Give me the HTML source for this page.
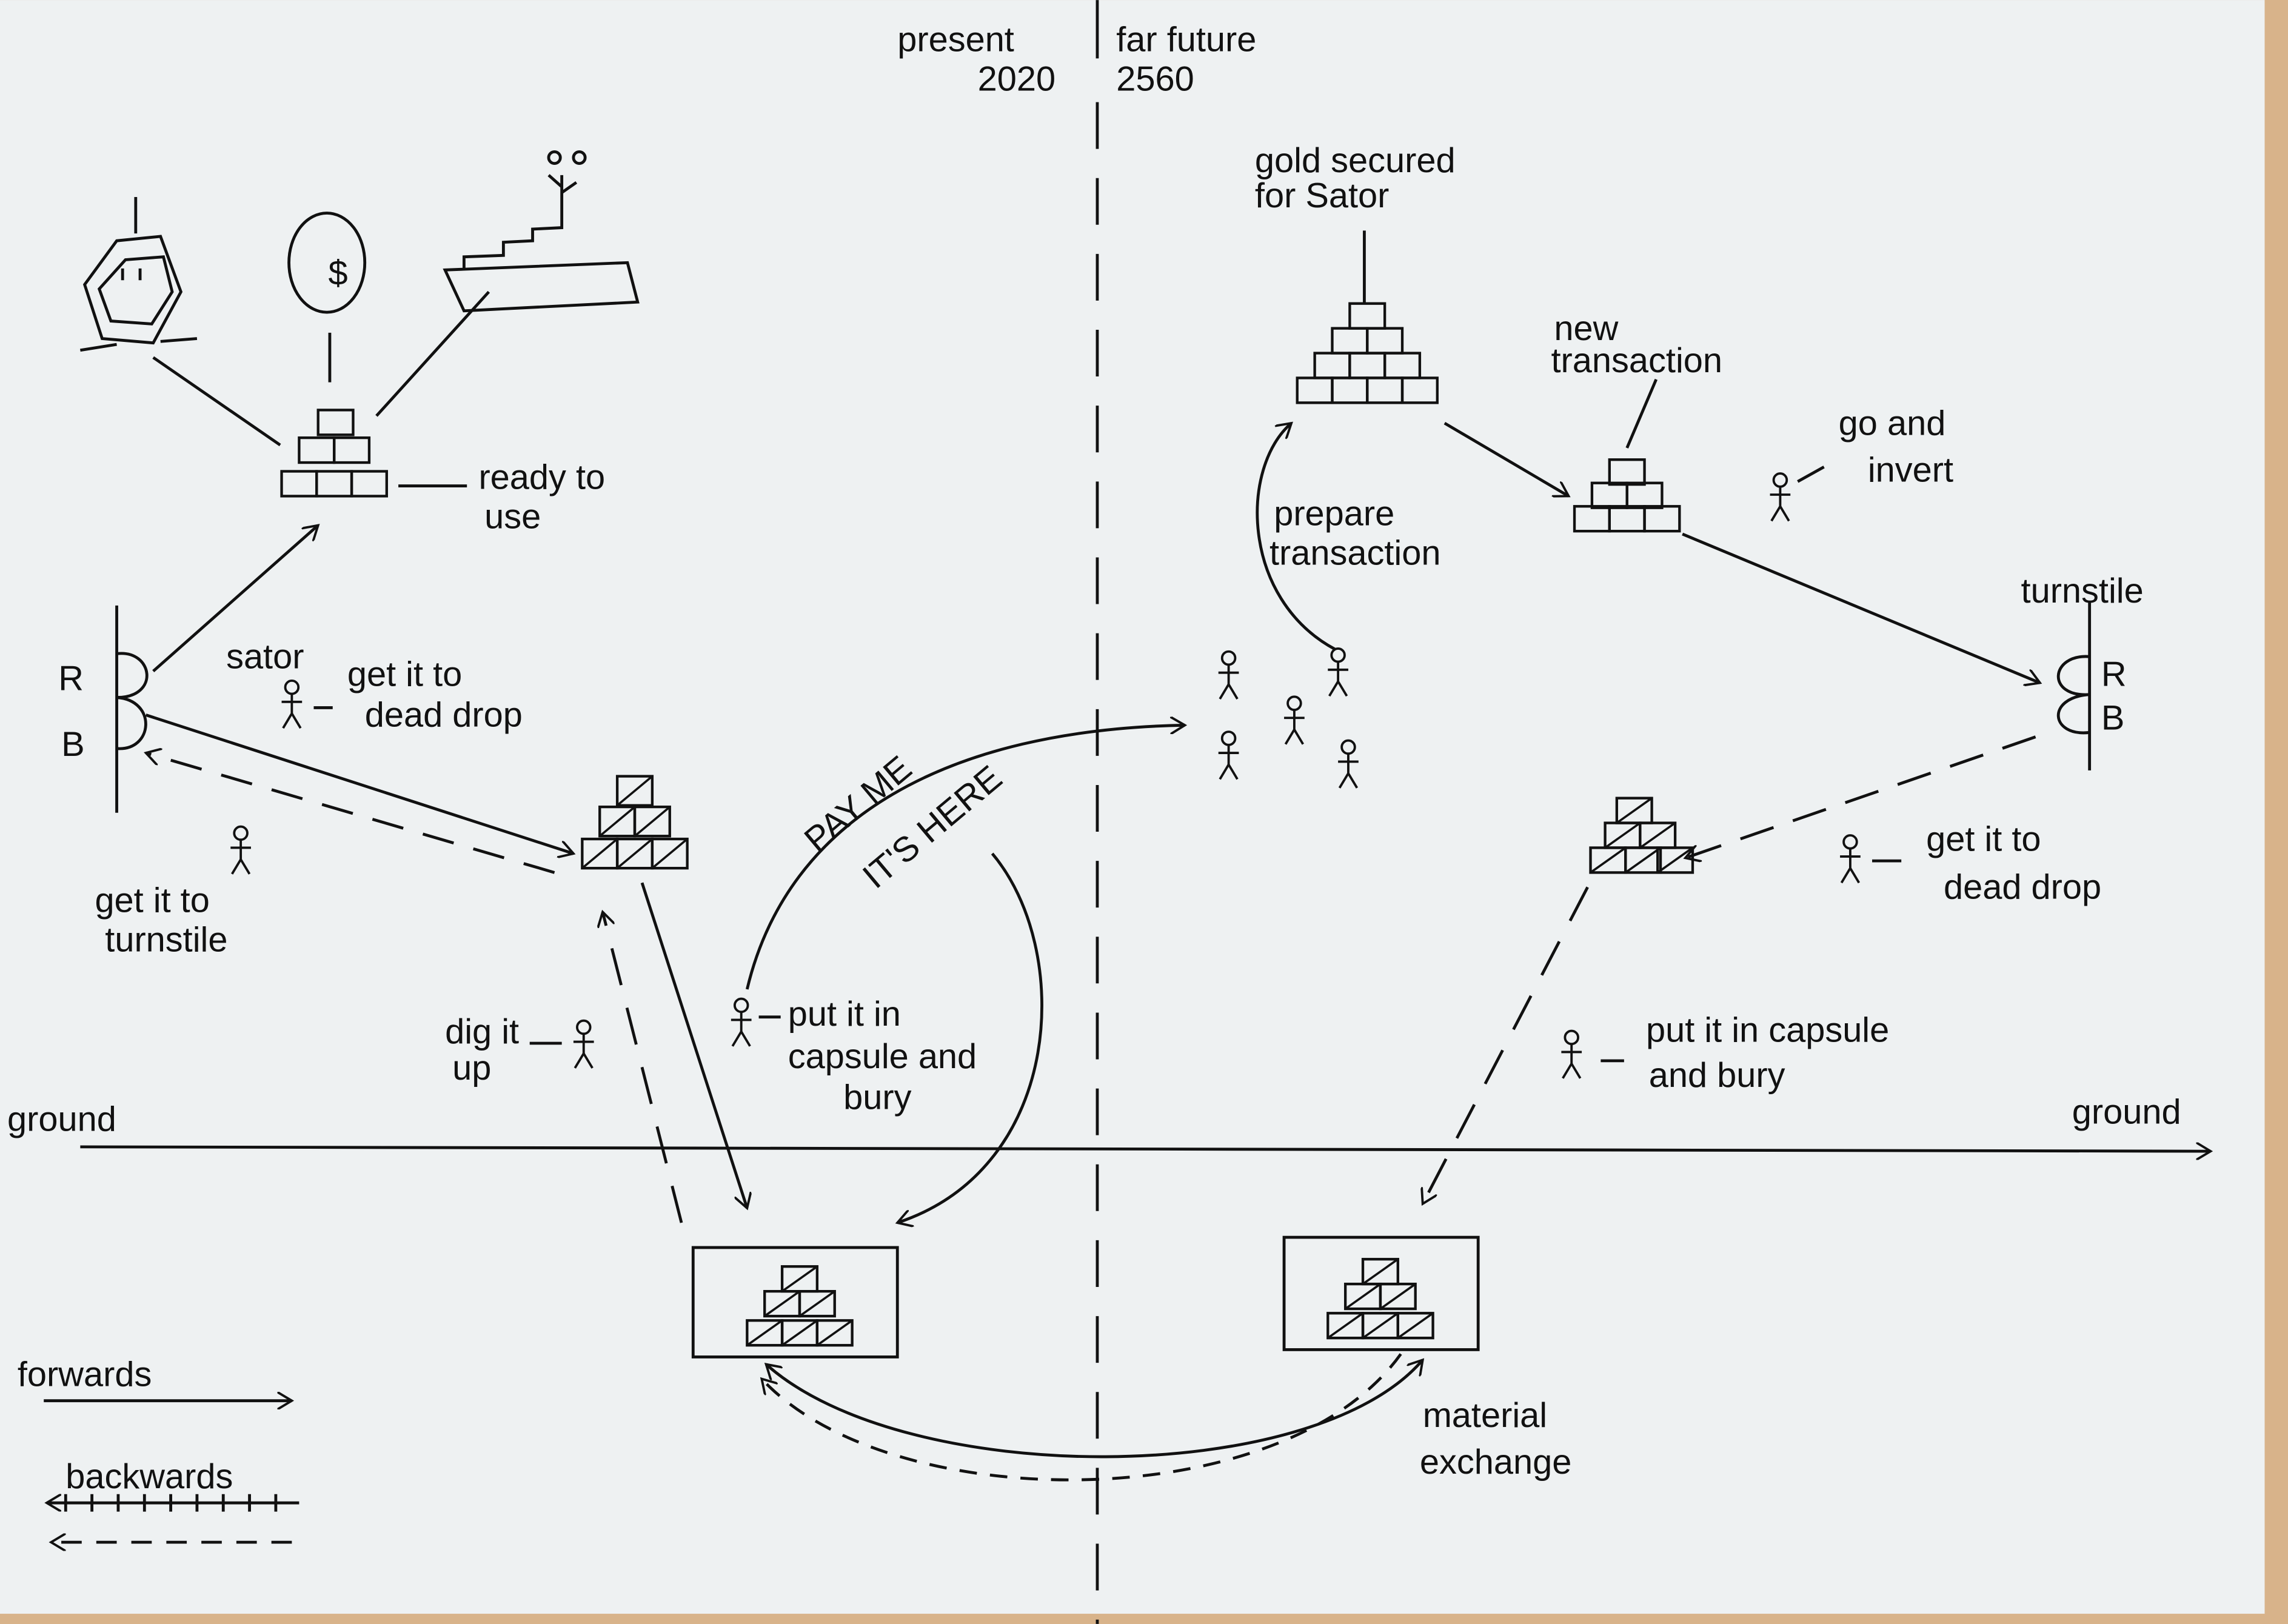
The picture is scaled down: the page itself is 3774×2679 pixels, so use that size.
<!DOCTYPE html>
<html><head><meta charset="utf-8"><style>
html,body{margin:0;padding:0;width:3774px;height:2679px;overflow:hidden;background:#d8b38a}
svg{display:block}
text{font-family:"Liberation Sans",sans-serif;font-size:24px;fill:#111}
</style></head><body>
<svg width="3774" height="2679" viewBox="0 0 1568 1113" xmlns="http://www.w3.org/2000/svg">
<defs>
<marker id="ar" markerWidth="12" markerHeight="12" refX="10" refY="6" orient="auto" markerUnits="userSpaceOnUse"><path d="M0,0 L10,6 L0,12" fill="none" stroke="#111" stroke-width="1.6"/></marker>
<marker id="as" markerWidth="12" markerHeight="12" refX="2" refY="6" orient="auto" markerUnits="userSpaceOnUse"><path d="M12,0 L2,6 L12,12" fill="none" stroke="#111" stroke-width="1.6"/></marker>
<g id="b"><rect width="24" height="17" fill="none" stroke="#111" stroke-width="1.8"/></g>
<g id="h"><rect width="24" height="17" fill="none" stroke="#111" stroke-width="1.8"/><line x1="0" y1="17" x2="24" y2="0" stroke="#111" stroke-width="1.5"/></g>
<g id="hb"><rect width="24" height="20" fill="none" stroke="#111" stroke-width="1.8"/><line x1="0" y1="20" x2="24" y2="0" stroke="#111" stroke-width="1.5"/></g>
<g id="f" fill="none" stroke="#111" stroke-width="1.6"><circle cx="0" cy="-14" r="4.5"/><line x1="0" y1="-9" x2="0" y2="4"/><line x1="-7" y1="-4" x2="7" y2="-4"/><line x1="0" y1="4" x2="-6" y2="14"/><line x1="0" y1="4" x2="6" y2="14"/></g>
</defs>
<rect x="0" y="0" width="1552" height="1106" fill="#eef1f2"/>
<g stroke="#111" stroke-width="2" fill="none">
<line x1="752" y1="0" x2="752" y2="40"/>
<line x1="752" y1="70" x2="752" y2="1113" stroke-dasharray="32,20"/>
<line x1="55" y1="786" x2="1515" y2="789" marker-end="url(#ar)"/>
<path d="M93,135 L93,160 M80,165 L110,162 L124,200 L105,235 L70,232 L58,195 Z M86,178 L112,176 L118,200 L104,222 L76,220 L68,198 Z M55,240 L80,236 M110,234 L135,232 M84,184 L84,192 M96,184 L96,192"/>
<ellipse cx="224" cy="180" rx="26" ry="34"/>
<line x1="226" y1="228" x2="226" y2="262"/>
<path d="M305,185 L430,180 L437,207 L318,213 Z M318,185 L318,176 L345,175 L345,166 L365,165 L365,157 L385,156 L385,145 M385,156 L385,120 M385,132 L395,125 M385,128 L376,120"/>
<circle cx="380" cy="108" r="4"/><circle cx="397" cy="108" r="4"/>
<line x1="105" y1="245" x2="192" y2="305"/>
<line x1="335" y1="200" x2="258" y2="285"/>
<line x1="273" y1="333" x2="320" y2="333"/>
<line x1="80" y1="415" x2="80" y2="557"/>
<path d="M80,448 C105,445 110,478 80,478 C108,480 105,515 80,513"/>
<line x1="105" y1="460" x2="218" y2="360" marker-end="url(#ar)"/>
<line x1="100" y1="490" x2="393" y2="585" marker-end="url(#ar)"/>
<line x1="380" y1="598" x2="100" y2="516" stroke-dasharray="22,14" marker-end="url(#ar)"/>
<line x1="440" y1="605" x2="512" y2="828" marker-end="url(#ar)"/>
<line x1="467" y1="838" x2="413" y2="625" stroke-dasharray="26,16" marker-end="url(#ar)"/>
<path d="M512,678 C540,560 650,500 812,497" marker-end="url(#ar)"/>
<path d="M680,585 C735,650 730,800 615,838" marker-end="url(#ar)"/>
<line x1="935" y1="158" x2="935" y2="208"/>
<path d="M915,445 C850,410 850,320 885,290" marker-end="url(#ar)"/>
<line x1="990" y1="290" x2="1075" y2="340" marker-end="url(#ar)"/>
<line x1="1115" y1="307" x2="1135" y2="260"/>
<line x1="1153" y1="366" x2="1398" y2="468" marker-end="url(#ar)"/>
<line x1="1432" y1="412" x2="1432" y2="528"/>
<path d="M1432,450 C1405,448 1402,478 1432,476 C1402,478 1405,505 1432,502"/>
<line x1="1395" y1="505" x2="1155" y2="588" stroke-dasharray="24,14" marker-end="url(#ar)"/>
<line x1="1088" y1="608" x2="975" y2="825" stroke-dasharray="26,16" marker-end="url(#ar)"/>
<line x1="1232" y1="330" x2="1250" y2="320"/>
<line x1="1283" y1="590" x2="1303" y2="590"/>
<line x1="1097" y1="727" x2="1113" y2="727"/>
<line x1="215" y1="485" x2="228" y2="485"/>
<line x1="363" y1="715" x2="385" y2="715"/>
<line x1="520" y1="697" x2="535" y2="697"/>
<rect x="475" y="855" width="140" height="75"/>
<rect x="880" y="848" width="133" height="77"/>
<path d="M975,932 C900,1020 620,1020 525,935" marker-end="url(#ar)" marker-start="url(#as)"/>
<path d="M960,928 C880,1040 610,1040 522,945" stroke-dasharray="12,9" marker-end="url(#ar)"/>
<line x1="30" y1="960" x2="200" y2="960" marker-end="url(#ar)"/>
<line x1="205" y1="1030" x2="32" y2="1030" marker-end="url(#ar)"/>
<path d="M45,1024 v12 M63,1024 v12 M81,1024 v12 M99,1024 v12 M117,1024 v12 M135,1024 v12 M153,1024 v12 M171,1024 v12 M189,1024 v12"/>
<line x1="200" y1="1057" x2="35" y2="1057" stroke-dasharray="14,10" marker-end="url(#ar)"/>
</g>
<use href="#b" x="218" y="281"/><use href="#b" x="205" y="300"/><use href="#b" x="229" y="300"/>
<use href="#b" x="193" y="323"/><use href="#b" x="217" y="323"/><use href="#b" x="241" y="323"/>
<use href="#b" x="925" y="208"/>
<use href="#b" x="913" y="225"/><use href="#b" x="937" y="225"/>
<use href="#b" x="901" y="242"/><use href="#b" x="925" y="242"/><use href="#b" x="949" y="242"/>
<use href="#b" x="889" y="259"/><use href="#b" x="913" y="259"/><use href="#b" x="937" y="259"/><use href="#b" x="961" y="259"/>
<use href="#b" x="1103" y="315"/><use href="#b" x="1091" y="331"/><use href="#b" x="1115" y="331"/>
<use href="#b" x="1079" y="347"/><use href="#b" x="1103" y="347"/><use href="#b" x="1127" y="347"/>
<use href="#hb" x="423" y="532"/><use href="#hb" x="411" y="553"/><use href="#hb" x="435" y="553"/>
<use href="#hb" x="399" y="575"/><use href="#hb" x="423" y="575"/><use href="#hb" x="447" y="575"/>
<use href="#h" x="1108" y="547"/><use href="#h" x="1100" y="564"/><use href="#h" x="1124" y="564"/>
<use href="#h" x="1090" y="581"/><use href="#h" x="1114" y="581"/><use href="#h" x="1136" y="581"/>
<use href="#h" x="536" y="868"/><use href="#h" x="524" y="885"/><use href="#h" x="548" y="885"/>
<use href="#h" x="512" y="905"/><use href="#h" x="536" y="905"/><use href="#h" x="560" y="905"/>
<use href="#h" x="934" y="863"/><use href="#h" x="922" y="880"/><use href="#h" x="946" y="880"/>
<use href="#h" x="910" y="900"/><use href="#h" x="934" y="900"/><use href="#h" x="958" y="900"/>
<use href="#f" x="200" y="485"/><use href="#f" x="165" y="585"/><use href="#f" x="400" y="718"/>
<use href="#f" x="508" y="703"/><use href="#f" x="842" y="465"/><use href="#f" x="917" y="463"/>
<use href="#f" x="887" y="496"/><use href="#f" x="842" y="520"/><use href="#f" x="924" y="526"/>
<use href="#f" x="1220" y="343"/><use href="#f" x="1268" y="591"/><use href="#f" x="1077" y="725"/>
<text x="225" y="195" font-size="30">$</text>
<text x="615" y="35">present</text><text x="670" y="62">2020</text>
<text x="765" y="35">far future</text><text x="765" y="62">2560</text>
<text x="5" y="775">ground</text><text x="1420" y="770">ground</text>
<text x="328" y="335">ready to</text><text x="332" y="362">use</text>
<text x="40" y="473" font-size="26">R</text><text x="42" y="518" font-size="26">B</text>
<text x="155" y="458" font-size="16">sator</text>
<text x="238" y="470">get it to</text><text x="250" y="498">dead drop</text>
<text x="65" y="625">get it to</text><text x="72" y="652">turnstile</text>
<text x="305" y="715">dig it</text><text x="310" y="740">up</text>
<text x="540" y="703">put it in</text><text x="540" y="732">capsule and</text><text x="578" y="760">bury</text>
<text x="560" y="585" font-size="30" transform="rotate(-40 560 585)">PAY ME</text>
<text x="600" y="610" font-size="26" transform="rotate(-40 600 610)">IT'S HERE</text>
<text x="860" y="118">gold secured</text><text x="860" y="142">for Sator</text>
<text x="1065" y="233">new</text><text x="1063" y="255">transaction</text>
<text x="1260" y="298">go and</text><text x="1280" y="330">invert</text>
<text x="873" y="360">prepare</text><text x="870" y="387">transaction</text>
<text x="1385" y="413">turnstile</text>
<text x="1440" y="470" font-size="26">R</text><text x="1440" y="500" font-size="26">B</text>
<text x="1320" y="583">get it to</text><text x="1332" y="616">dead drop</text>
<text x="1128" y="714">put it in capsule</text><text x="1130" y="745">and bury</text>
<text x="975" y="978">material</text><text x="973" y="1010">exchange</text>
<text x="12" y="950">forwards</text><text x="45" y="1020">backwards</text>
</svg>
</body></html>
